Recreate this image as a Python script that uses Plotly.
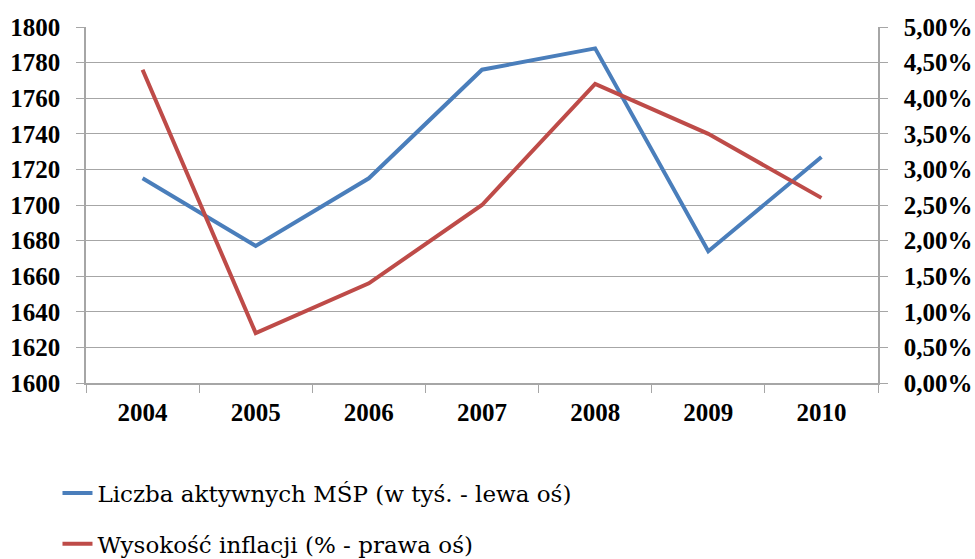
import plotly.graph_objects as go

years = ["2004", "2005", "2006", "2007", "2008", "2009", "2010"]
msp_count = [1715, 1677, 1715, 1776, 1788, 1674, 1727]      # thousands, left axis
inflation = [4.40, 0.70, 1.40, 2.50, 4.20, 3.50, 2.60]      # percent, right axis

left_ticks = list(range(1600, 1801, 20))
right_ticks = [0, 0.5, 1, 1.5, 2, 2.5, 3, 3.5, 4, 4.5, 5]
right_labels = [f"{v:.2f}".replace(".", ",") + "%" for v in right_ticks]

BLUE = "#4A7EBB"
RED = "#BE4B48"
GRID = "#A6A6A6"
SERIF_BOLD = "Liberation Serif"
SERIF_TEXT = "DejaVu Serif"

fig = go.Figure()
fig.add_trace(go.Scatter(
    x=years, y=msp_count, mode="lines", yaxis="y",
    name="Liczba aktywnych MŚP (w tyś. - lewa oś)",
    line=dict(color=BLUE, width=4), legend="legend",
))
fig.add_trace(go.Scatter(
    x=years, y=inflation, mode="lines", yaxis="y2",
    name="Wysokość inflacji (% - prawa oś)",
    line=dict(color=RED, width=4), legend="legend2",
))

tick_font = dict(family=SERIF_BOLD, size=25, color="#000000", weight="bold")
legend_font = dict(family=SERIF_TEXT, size=23, color="#000000")

fig.update_layout(
    width=975, height=559,
    margin=dict(l=86, r=97, t=27, b=176, autoexpand=False),
    paper_bgcolor="white", plot_bgcolor="white",
    font=dict(family=SERIF_BOLD),
    xaxis=dict(
        type="category", tickfont=tick_font,
        showline=True, linecolor=GRID, linewidth=1.5,
        ticks="outside", tickson="boundaries", ticklen=8, tickcolor=GRID,
        showgrid=False, range=[-0.5, 6.5], ticklabelstandoff=6,
    ),
    yaxis=dict(
        range=[1600, 1800], tickvals=left_ticks, tickfont=tick_font,
        showline=True, linecolor=GRID, linewidth=1.5,
        ticks="outside", ticklen=8, tickcolor=GRID,
        showgrid=True, gridcolor=GRID, gridwidth=1.2,
        zeroline=False, ticklabelstandoff=11,
    ),
    yaxis2=dict(
        range=[0, 5], tickvals=right_ticks, ticktext=right_labels,
        overlaying="y", side="right", tickfont=tick_font,
        showline=True, linecolor=GRID, linewidth=1.5,
        ticks="outside", ticklen=8, tickcolor=GRID,
        showgrid=False, zeroline=False, ticklabelstandoff=11,
    ),
    legend=dict(
        x=-0.036, y=0.118, xanchor="left", yanchor="middle", yref="container",
        font=legend_font, bgcolor="rgba(0,0,0,0)", itemwidth=30,
    ),
    legend2=dict(
        x=-0.036, y=0.027, xanchor="left", yanchor="middle", yref="container",
        font=legend_font, bgcolor="rgba(0,0,0,0)", itemwidth=30,
    ),
    showlegend=True,
)

fig.write_html("out.html")
